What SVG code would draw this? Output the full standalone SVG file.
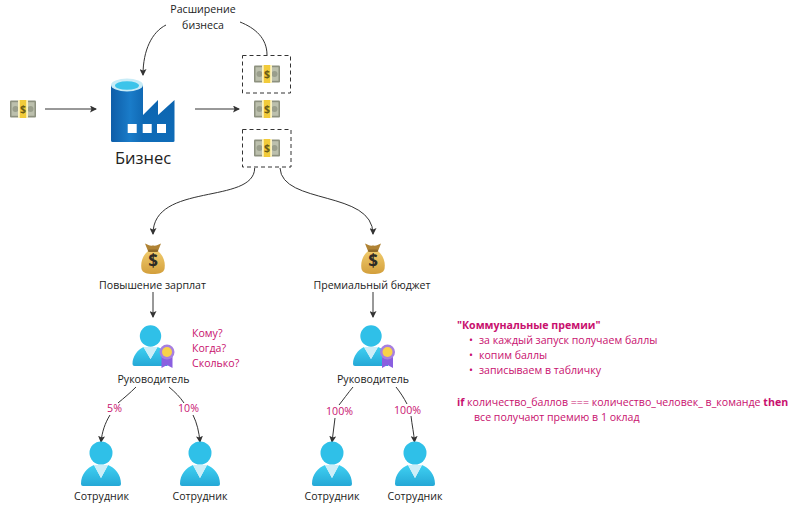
<svg xmlns="http://www.w3.org/2000/svg" xmlns:xlink="http://www.w3.org/1999/xlink" width="800" height="509" viewBox="0 0 800 509">
<style>
text{font-family:"Open Sans","Noto Sans","Liberation Sans",sans-serif;font-size:10.6px;fill:#222}
.m{text-anchor:middle}
.p{fill:#c8106e}
.b{font-weight:700}
.c{fill:none;stroke:#333;stroke-width:1;marker-end:url(#ah)}
.n{fill:none;stroke:#333;stroke-width:1}
.d{fill:none;stroke:#333;stroke-width:1;stroke-dasharray:4 3}
</style>
<defs>
<marker id="ah" markerWidth="7" markerHeight="7" refX="6" refY="3.5" orient="auto" markerUnits="userSpaceOnUse"><path d="M0,0 L7,3.5 L0,7 L1.5,3.5 Z" fill="#333"/></marker>
<linearGradient id="pg" x1="0" y1="0" x2="0" y2="1"><stop offset="0" stop-color="#3fd0f2"/><stop offset="1" stop-color="#25a8d6"/></linearGradient>
<linearGradient id="cy" x1="0" y1="0" x2="1" y2="0"><stop offset="0" stop-color="#0e5da8"/><stop offset=".6" stop-color="#1a7cc9"/><stop offset="1" stop-color="#1069b4"/></linearGradient>
<linearGradient id="fa" x1="0" y1="0" x2="0" y2="1"><stop offset="0" stop-color="#0b62ad"/><stop offset="1" stop-color="#0f6cb8"/></linearGradient>
<linearGradient id="bg" x1="0" y1="0" x2="0" y2="1"><stop offset="0" stop-color="#f0cb6c"/><stop offset="1" stop-color="#d39f3c"/></linearGradient>
<g id="money">
<rect x="-13" y="-8.500" width="26" height="17" rx="1" fill="#8d917f"/>
<rect x="-11.500" y="-6.800" width="23" height="13.600" fill="#bcc0ad"/>
<circle cx="-7.500" cy="0" r="3" fill="#9a9e8c"/><circle cx="7.500" cy="0" r="3" fill="#9a9e8c"/>
<rect x="-5" y="-9" width="10" height="18" fill="#fbf2c0"/>
<rect x="-3.200" y="-9" width="6.400" height="18" fill="#f2cb3a"/>
<text x="0" y="3.800" class="m b" style="font-size:10.500px;fill:#6b5c18">$</text>
</g>
<g id="bag">
<path d="M-8,-15.500 C-5,-14 -3,-13 0,-13.500 C3,-13 5,-14 8,-15.500 L5,-8 L-5,-8 Z" fill="#b08334"/>
<path d="M-5,-8 L5,-8 C11,-3 12.500,4 11.500,10 C10.500,14 6,15 0,15 C-6,15 -10.500,14 -11.500,10 C-12.500,4 -11,-3 -5,-8 Z" fill="url(#bg)"/>
<rect x="-5" y="-9.500" width="10" height="2.500" rx="1" fill="#8f6a28"/>
<text x="0" y="8" class="m b" style="font-size:17px;fill:#2e2b26">$</text>
</g>
<g id="person">
<path d="M-20,31 C-20,21 -14,15 -7,12 L0,25 L7,12 C14,15 20,21 20,31 Q20,33 18,33 H-18 Q-20,33 -20,31 Z" fill="url(#pg)"/>
<path d="M-7,12 L7,12 L0,25 Z" fill="#cdeef8"/>
<circle cx="0" cy="0" r="11.500" fill="#2fc0e8"/>
</g>
<g id="manager">
<path d="M-18,28 C-18,20 -13,14 -7,11 L0,23 L7,11 C12,13 15,15 17,20 L17,30 H-16 Q-18,30 -18,28 Z" fill="url(#pg)"/>
<path d="M-7,11 L7,11 L0,23 Z" fill="#cdeef8"/>
<circle cx="0" cy="0" r="10.700" fill="#2fc0e8"/>
<path d="M11,19 L22,19 L22,32 L16.500,29 L11,32 Z" fill="#8a5fe0"/>
<circle cx="16.500" cy="16" r="7.500" fill="#a77fe0"/>
<circle cx="16.500" cy="16" r="5" fill="#f8d24a"/>
</g>
</defs>

<g id="connectors">
<path class="c" d="M45,109 H96"/>
<path class="c" d="M195,109 H239"/>
<path class="c" d="M166,25 C152,32 143,50 143,75"/>
<path class="n" d="M240,22 C255,28 267,38 267,55"/>
<path class="c" d="M254.700,168 C254,205 153,182 153,234"/>
<path class="c" d="M280,168 C282,205 373,190 373,234"/>
<path class="c" d="M153,292 V317"/>
<path class="c" d="M373,292 V317"/>
<path class="n" d="M136,387 C130,393 124,398 118,403"/>
<path class="c" d="M110,415 C105,423 102,432 101,442"/>
<path class="n" d="M169,387 C175,392 180,397 184,403"/>
<path class="c" d="M193,415 C197,423 199,432 200,442"/>
<path class="n" d="M353,387 C348,393 343,400 339,405"/>
<path class="c" d="M335,418 C334,426 333,434 332,442"/>
<path class="n" d="M396,387 C400,392 404,398 407,404"/>
<path class="c" d="M411,416 C412,425 414,434 414.500,442"/>
</g>

<g id="money-in"><use xlink:href="#money" href="#money" x="23" y="109"/></g>
<g id="business">
<path d="M111,85 H143 V115 L158,100 V115 L174.500,100 V141 Q174.500,142 173,142 H113 Q111,142 111,140 Z" fill="url(#fa)"/>
<path d="M111,85 H143 V142 H113 Q111,142 111,140 Z" fill="url(#cy)"/>
<ellipse cx="127" cy="85" rx="16" ry="6.500" fill="#c8ecf7"/>
<ellipse cx="127" cy="85.500" rx="12" ry="4.300" fill="#3cc4ea"/>
<rect x="127.700" y="124" width="9" height="9" fill="#fff"/>
<rect x="142.700" y="124" width="9" height="9" fill="#fff"/>
<rect x="157" y="124" width="9" height="9" fill="#fff"/>
<text x="143" y="163.500" class="m" style="font-size:16.500px;fill:#222">Бизнес</text>
</g>
<g id="expansion">
<text x="203" y="13" class="m">Расширение</text>
<text x="203" y="29" class="m">бизнеса</text>
</g>
<g id="money-top"><rect class="d" x="242.500" y="55.500" width="48" height="37.500"/><use xlink:href="#money" href="#money" x="267" y="74"/></g>
<g id="money-mid"><use xlink:href="#money" href="#money" x="267" y="109"/></g>
<g id="money-bot"><rect class="d" x="242.500" y="129.500" width="48.500" height="37.500"/><use xlink:href="#money" href="#money" x="267" y="148"/></g>

<g id="raises">
<use xlink:href="#bag" href="#bag" x="153" y="259"/>
<text x="152.500" y="289" class="m">Повышение зарплат</text>
</g>
<g id="bonus">
<use xlink:href="#bag" href="#bag" x="373" y="259"/>
<text x="372" y="289" class="m">Премиальный бюджет</text>
</g>

<g id="manager-left">
<use xlink:href="#manager" href="#manager" x="150.500" y="336"/>
<text x="153.500" y="383" class="m">Руководитель</text>
</g>
<g id="questions">
<text x="192" y="337" class="p">Кому?</text>
<text x="192" y="352" class="p">Когда?</text>
<text x="192" y="367" class="p">Сколько?</text>
</g>
<g id="manager-right">
<use xlink:href="#manager" href="#manager" x="371" y="336"/>
<text x="373" y="383" class="m">Руководитель</text>
</g>

<g id="employee-1"><use xlink:href="#person" href="#person" x="101" y="453"/><text x="101.500" y="500" class="m">Сотрудник</text></g>
<g id="employee-2"><use xlink:href="#person" href="#person" x="200" y="453"/><text x="200" y="500" class="m">Сотрудник</text></g>
<g id="employee-3"><use xlink:href="#person" href="#person" x="332" y="453"/><text x="332" y="500" class="m">Сотрудник</text></g>
<g id="employee-4"><use xlink:href="#person" href="#person" x="415" y="453"/><text x="415" y="500" class="m">Сотрудник</text></g>

<g id="percents">
<text x="114.500" y="412" class="m p">5%</text>
<text x="188.500" y="412" class="m p">10%</text>
<text x="339.500" y="415" class="m p">100%</text>
<text x="407.500" y="414" class="m p">100%</text>
</g>

<g id="note">
<text x="457" y="329" class="p b">"Коммунальные премии"</text>
<text x="469" y="344" class="p">•</text><text x="479" y="344" class="p">за каждый запуск получаем баллы</text>
<text x="469" y="359" class="p">•</text><text x="479" y="359" class="p">копим баллы</text>
<text x="469" y="374" class="p">•</text><text x="479" y="374" class="p">записываем в табличку</text>
<text x="457" y="406" class="p"><tspan class="b">if</tspan> количество_баллов === количество_человек_ в_команде <tspan class="b">then</tspan></text>
<text x="474" y="421" class="p">все получают премию в 1 оклад</text>
</g>
</svg>
